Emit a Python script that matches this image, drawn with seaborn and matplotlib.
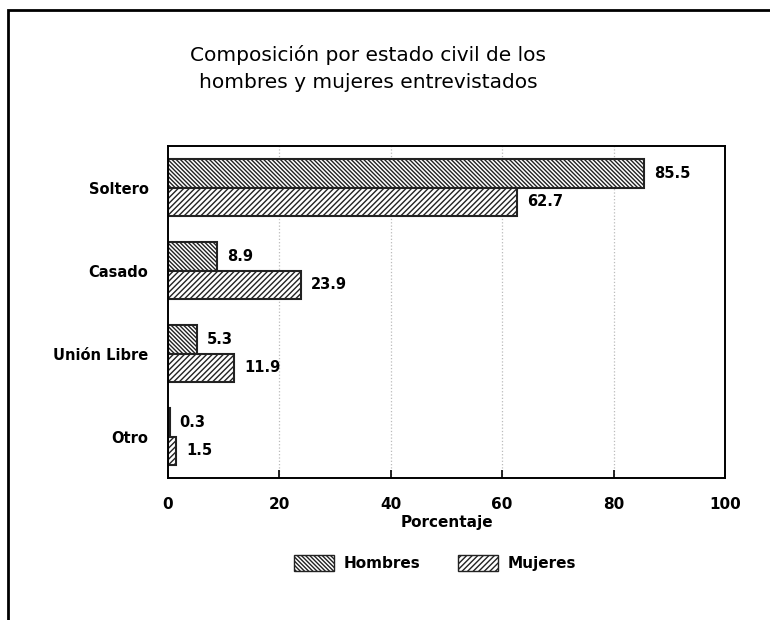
import matplotlib
matplotlib.use("Agg")
import matplotlib.pyplot as plt
import seaborn as sns
import pandas as pd
from matplotlib.patches import Rectangle, Patch

categorias = ["Soltero", "Casado", "Unión Libre", "Otro"]
hombres = [85.5, 8.9, 5.3, 0.3]
mujeres = [62.7, 23.9, 11.9, 1.5]
series = ["Hombres", "Mujeres"]
xticks = [0, 20, 40, 60, 80, 100]

df = pd.DataFrame({
    "Estado": categorias * 2,
    "Valor": hombres + mujeres,
    "Sexo": [series[0]] * len(categorias) + [series[1]] * len(categorias),
})

sns.set_style("white")
plt.rcParams["font.family"] = ["DejaVu Sans"]
plt.rcParams["hatch.linewidth"] = 1.0
plt.rcParams["text.color"] = "black"
plt.rcParams["xtick.color"] = "black"
plt.rcParams["ytick.color"] = "black"
plt.rcParams["axes.labelcolor"] = "black"

fig = plt.figure(figsize=(7.7, 6.2), dpi=100)
ax = fig.add_axes([0.218, 0.229, 0.7236, 0.5355])

sns.barplot(data=df, y="Estado", x="Valor", hue="Sexo", orient="h",
            order=categorias, hue_order=series, width=0.68,
            palette=["white", "white"], edgecolor="black", linewidth=1.5,
            legend=False, ax=ax, saturation=1)

hatches = {"Hombres": "\\\\\\\\\\\\\\\\", "Mujeres": "//////"}
for cont, s in zip(ax.containers, series):
    for bar in cont:
        bar.set_hatch(hatches[s])
        bar.set_edgecolor("#222222")
    ax.bar_label(cont, labels=[f"{v:.1f}" for v in cont.datavalues],
                 padding=7, fontsize=10.5, fontweight="bold", color="black")

ax.set_xlim(0, 100)
ax.set_ylim(3.5, -0.5)
ax.set_xticks(xticks)
ax.set_xticklabels([str(t) for t in xticks], fontsize=11, fontweight="bold")
ax.tick_params(axis="x", direction="in", length=6, width=1.2, bottom=True, pad=14)
ax.tick_params(axis="y", length=0, pad=14)
for lbl in ax.get_yticklabels():
    lbl.set_fontweight("bold")
    lbl.set_fontsize(10.5)
ax.set_ylabel("")
ax.set_xlabel("Porcentaje", fontsize=11, fontweight="bold", labelpad=2)
for x in xticks[1:-1]:
    ax.axvline(x, color="#bbbbbb", linestyle=":", linewidth=0.9, zorder=0)
for sp in ax.spines.values():
    sp.set_visible(True)
    sp.set_color("black")
    sp.set_linewidth(1.4)

fig.text(0.478, 0.889, "Composición por estado civil de los\nhombres y mujeres entrevistados",
         ha="center", va="center", fontsize=14.5, linespacing=1.55, color="black")

handles = [Patch(facecolor="white", edgecolor="#222222", hatch=hatches[s], label=s) for s in series]
fig.legend(handles=handles, loc="center", bbox_to_anchor=(0.565, 0.092), ncol=2,
           frameon=False, prop={"weight": "bold", "size": 11},
           handlelength=2.6, handleheight=1.2, columnspacing=2.5, handletextpad=0.6)

fig.patches.append(Rectangle((0.010, -0.01), 1.0, 0.994, transform=fig.transFigure,
                             fill=False, edgecolor="black", linewidth=2.0))

fig.savefig("out.png", dpi=100, facecolor="white")
